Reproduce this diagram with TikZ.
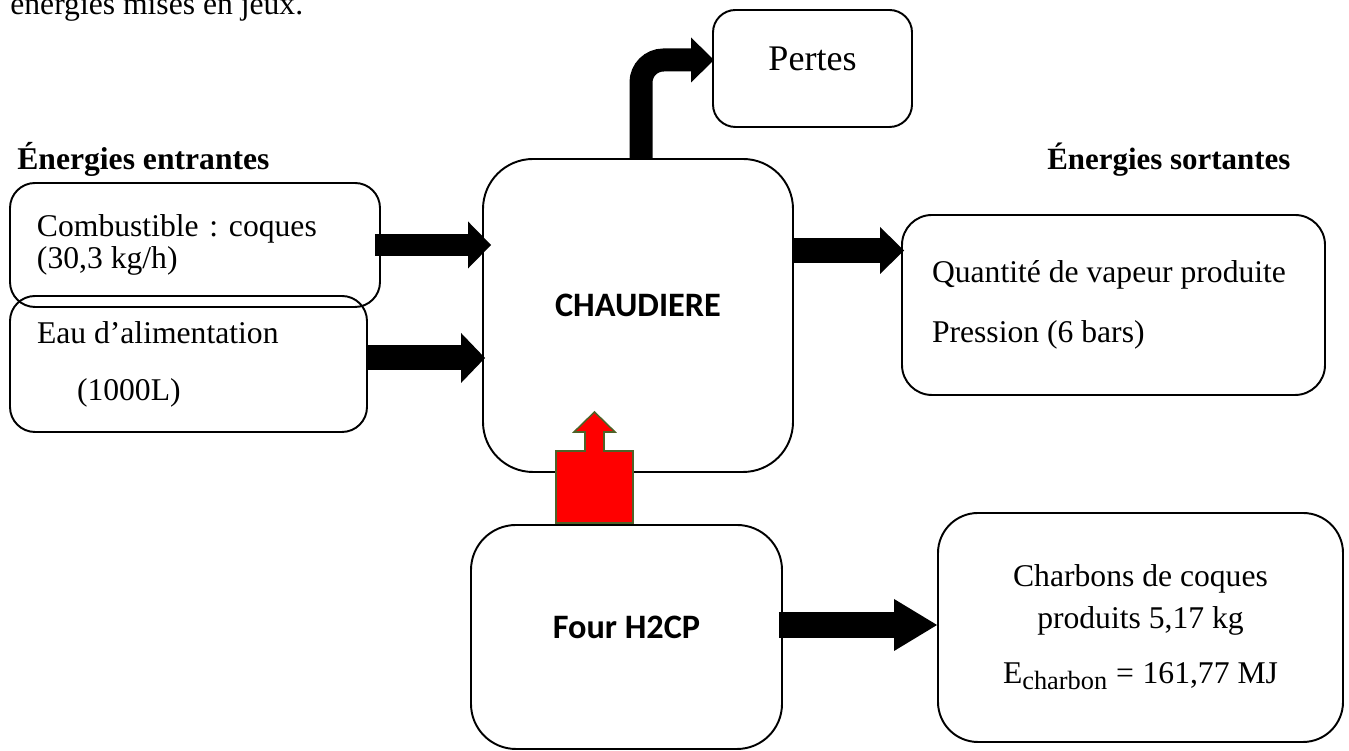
\documentclass[tikz,border=0pt]{standalone}
\usepackage{fontspec}
\setmainfont{Liberation Serif}
\newfontfamily\calibri{Carlito}
\usepackage{tikz}
\usetikzlibrary{arrows.meta,positioning,calc}
\definecolor{flame}{HTML}{FF0000}
\definecolor{moss}{HTML}{4F6228}
\tikzset{
  procbox/.style={
    rectangle, rounded corners=#1, draw=black, line width=1.1pt,
    inner sep=0pt, align=center,
    font=\fontsize{18}{18.5}\selectfont
  },
  procbox/.default=0.5cm,
  unitbox/.style={
    procbox=#1, font=\fontsize{19.5}{21}\selectfont\calibri\bfseries,
    text depth=0.4cm
  },
  headlabel/.style={
    font=\fontsize{18}{20}\selectfont\bfseries, inner sep=0pt, anchor=base west
  },
  flowarrow/.style n args={3}{
    draw=black, line width=#1,
    -{Triangle[length=#2, width=#3, line width=0pt]}
  },
  heatarrow/.style={fill=flame, draw=moss, line width=0.9pt},
}
\begin{document}
\begin{tikzpicture}
\useasboundingbox (0,0) rectangle (26.98,15.02);

% ── titres ──
\node[headlabel, font=\fontsize{18}{20}\selectfont] (intro) at (0.20,14.72) {énergies mises en jeux.};
\node[headlabel] (inlabel) at (0.34,11.62) {Énergies entrantes};
\node[headlabel, font=\fontsize{17.6}{20}\selectfont\bfseries] (outlabel) at (20.94,11.62) {Énergies sortantes};

% ── blocs ──
\node[procbox, minimum width=7.40cm, minimum height=2.48cm,
      text width=6.32cm, align=flush left] (comb) at (3.90,10.12)
  {Combustible\hspace{0.34em}:\hspace{0.34em}coques\\(30,3 kg/h)};
\node[procbox, minimum width=7.14cm, minimum height=2.72cm,
      text width=6.06cm, align=flush left] (eau) at (3.77,7.74)
  {Eau d’alimentation\\[14pt]\hspace*{0.8cm}(1000L)};
\node[unitbox=1cm, minimum width=6.20cm, minimum height=6.26cm] (chaud) at (12.76,8.71) {CHAUDIERE};
\node[procbox=0.45cm, minimum width=3.98cm, minimum height=2.34cm,
      font=\fontsize{20.5}{22}\selectfont, text depth=0.4cm] (pertes) at (16.25,13.65) {Pertes};
\node[procbox=0.6cm, minimum width=8.46cm, minimum height=3.60cm,
      text width=7.26cm, align=flush left] (vapeur) at (22.27,8.92)
  {Quantité de vapeur produite\\[16pt]Pression (6 bars)};
\node[unitbox=0.9cm, minimum width=6.22cm, minimum height=4.48cm] (four) at (12.53,2.28) {Four H2CP};
\node[procbox=0.8cm, minimum width=8.10cm, minimum height=4.58cm] (charbon) at (22.81,2.47)
  {Charbons de coques\\[5pt]produits 5,17 kg\\[13pt]
   E\raisebox{-3.5pt}{\fontsize{15}{15}\selectfont charbon}\hspace{5pt}=\hspace{5pt}161,77 MJ};

% ── flux ──
\coordinate (combout) at ([xshift=-0.12cm]comb.east);
\coordinate (eauout) at ([xshift=-0.02cm,yshift=0.12cm]eau.east);
\coordinate (vapin) at ([xshift=0.06cm,yshift=1.09cm]vapeur.west);
\coordinate (charin) at ([yshift=0.05cm]charbon.west);
\coordinate (heatbase) at ([xshift=-0.64cm,yshift=0.02cm]four.north);

\draw[flowarrow={0.44cm}{0.46cm}{0.94cm}] (combout) -- ([xshift=0.18cm]chaud.west |- combout);
\draw[flowarrow={0.50cm}{0.48cm}{1.00cm}] (eauout) -- ([xshift=0.06cm]chaud.west |- eauout);
\draw[flowarrow={0.50cm}{0.48cm}{0.94cm}] (chaud.east |- vapin) -- (vapin);
\draw[flowarrow={0.52cm}{0.86cm}{1.04cm}] ([xshift=-0.08cm]four.east |- charin) -- (charin);
\draw[flowarrow={0.46cm}{0.46cm}{0.90cm}, rounded corners=0.45cm]
  ([xshift=0.06cm]chaud.north) |- ([xshift=0.04cm,yshift=0.17cm]pertes.west);

\draw[heatarrow, shift={(heatbase)}]
  (-0.77,0) -- (-0.77,1.44) -- (-0.19,1.44) -- (-0.19,1.82) -- (-0.41,1.82)
  -- (0,2.22) -- (0.41,1.82) -- (0.19,1.82) -- (0.19,1.44) -- (0.77,1.44)
  -- (0.77,0) -- cycle;

\end{tikzpicture}
\end{document}
